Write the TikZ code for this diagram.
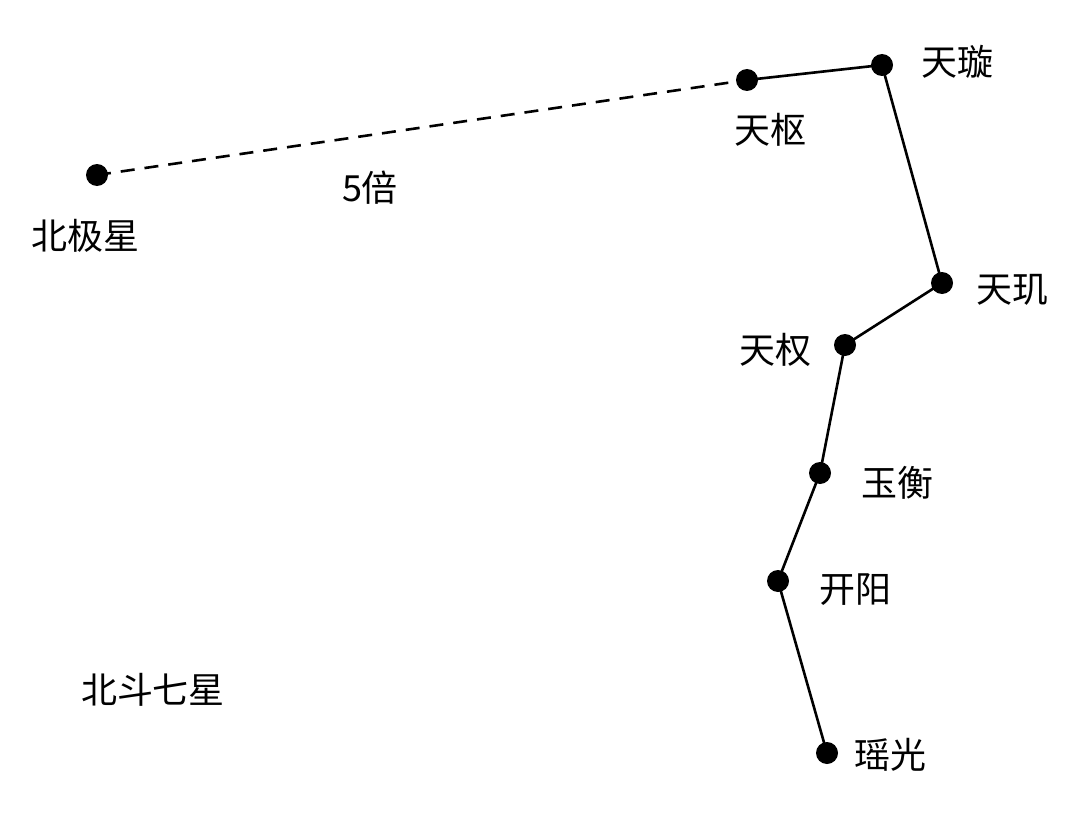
\documentclass[tikz,border=0pt]{standalone}
\usepackage{fontspec}
\newfontfamily\cjk{Noto Sans CJK SC}
\begin{document}
\begin{tikzpicture}[x=1pt,y=-1pt,
  star/.style={circle,fill=black,inner sep=0pt,minimum size=22pt},
  lab/.style={font=\cjk\fontsize{36}{40}\selectfont,inner sep=0pt},
  link/.style={line width=2.6pt}]
\useasboundingbox (0,0) rectangle (1080,816);
\node[star] (bj) at (97,175) {};
\node[star] (tsh) at (747,80) {};
\node[star] (tx) at (882,65) {};
\node[star] (tj) at (942,283) {};
\node[star] (tq) at (845,345) {};
\node[star] (yh) at (820,473) {};
\node[star] (ky) at (778,581) {};
\node[star] (yg) at (827,753) {};
\node[lab] at (85,236) {北极星};
\node[lab] at (770,130) {天枢};
\node[lab] at (957,62) {天璇};
\node[lab] at (1012,290) {天玑};
\node[lab] at (775,350) {天权};
\node[lab] at (897,483) {玉衡};
\node[lab] at (855,590) {开阳};
\node[lab] at (890,755) {瑶光};
\node[lab] at (370,188) {5倍};
\node[lab] at (153,690) {北斗七星};
\draw[link,dash pattern=on 14pt off 10pt] (bj.center) -- (tsh.center);
\draw[link] (tsh.center) -- (tx.center) -- (tj.center) -- (tq.center) -- (yh.center) -- (ky.center) -- (yg.center);
\end{tikzpicture}
\end{document}
